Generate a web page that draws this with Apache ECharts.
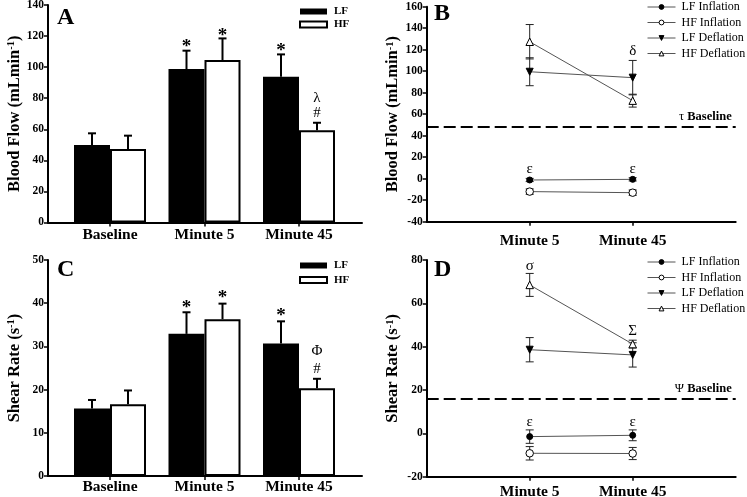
<!DOCTYPE html>
<html><head><meta charset="utf-8">
<script src="https://cdn.jsdelivr.net/npm/echarts@6/dist/echarts.min.js"></script>
<style>html,body{margin:0;padding:0;background:#fff}#c{width:747px;height:497px}</style>
</head><body><div id="c"></div><script>
// ---------- data ----------
const barCats = ['Baseline', 'Minute 5', 'Minute 45'];
const lineCats = ['', 'Minute 5', 'Minute 45', ''];
const lineNames = ['LF Inflation', 'HF Inflation', 'LF Deflation', 'HF Deflation'];

// Panel A: Blood flow (mL min-1)
const aLF = [49.9, 98.8, 93.8];
const aLFerr = [7.5, 11.8, 14.4];
const aHF = [47.3, 104.6, 59.3];
const aHFerr = [8.6, 13.9, 4.9];
const aNotes = [[1, -1, 115.3, '*'], [1, 1, 122.8, '*'], [2, -1, 113.1, '*'], [2, 1, 80.3, 'λ'], [2, 1, 70.4, '#']];

// Panel C: Shear rate (s-1)
const cLF = [15.6, 32.9, 30.7];
const cLFerr = [2.0, 5.0, 5.1];
const cHF = [16.6, 36.3, 20.3];
const cHFerr = [3.2, 3.6, 2.2];
const cNotes = [[1, -1, 39.9, '*'], [1, 1, 42.2, '*'], [2, -1, 38.0, '*'], [2, 1, 28.9, 'Φ'], [2, 1, 24.7, '#']];

// Panel B: Blood flow, cuff inflation / deflation
const bLFinf = [-1.2, -0.6];  const bLFinfErr = [1.5, 1.5];
const bHFinf = [-12.0, -13.0]; const bHFinfErr = [2.5, 2.5];
const bLFdef = [99.5, 94.0];  const bLFdefErr = [13.0, 16.0];
const bHFdef = [127.4, 72.6]; const bHFdefErr = [16.0, 6.0];
const bBaseline = 48.5;
const bNotes = [[2, 118.5, 'δ'], [1, 9.3, 'ε'], [2, 9.3, 'ε']];

// Panel D: Shear rate, cuff inflation / deflation
const dLFinf = [-1.5, -0.9];  const dLFinfErr = [3.1, 2.5];
const dHFinf = [-9.2, -9.3];  const dHFinfErr = [3.1, 2.8];
const dLFdef = [38.6, 36.2];  const dLFdefErr = [5.6, 5.6];
const dHFdef = [68.5, 41.2];  const dHFdefErr = [5.3, 1.8];
const dBaseline = 16.2;
const dNotes = [[1, 77.4, 'σ'], [2, 47.3, 'Σ'], [1, 5.4, 'ε'], [2, 5.4, 'ε']];

// ---------- style ----------
const FF = "'Liberation Serif','Times New Roman',serif";
const BAR_W = 36;

function yName(main) {
  return '{t|' + main + '}{s|-1}{t|)}';
}
const nameStyle = {
  fontFamily: FF, fontWeight: 'bold', fontSize: 16.5, color: '#000',
  rich: {
    t: { fontFamily: FF, fontWeight: 'bold', fontSize: 16.5, color: '#000' },
    s: { fontFamily: FF, fontWeight: 'bold', fontSize: 10.5, color: '#000', verticalAlign: 'top', padding: [0, 0, 6, 0] }
  }
};

function frameY(grid, min, max, interval, name) {
  return {
    gridIndex: grid, type: 'value', min: min, max: max, interval: interval,
    axisLine: { show: true, lineStyle: { color: '#000', width: 2 } },
    axisTick: { show: true, length: 4, lineStyle: { color: '#000', width: 1.5 } },
    axisLabel: { fontFamily: FF, fontWeight: 'bold', fontSize: 11.5, color: '#000', margin: 4 },
    splitLine: { show: false },
    name: name, nameLocation: 'middle', nameGap: 25, nameTextStyle: nameStyle
  };
}
function hiddenY(grid, min, max) {
  return { gridIndex: grid, type: 'value', min: min, max: max, show: false, splitLine: { show: false } };
}
function frameX(grid) {
  return {
    gridIndex: grid, type: 'value', min: 0, max: 1,
    axisLine: { show: true, onZero: false, lineStyle: { color: '#000', width: 2 } },
    axisTick: { show: false }, axisLabel: { show: false }, splitLine: { show: false }
  };
}
function barX(grid, margin) {
  return {
    gridIndex: grid, type: 'category', data: barCats,
    axisLine: { show: false },
    axisTick: { show: true, alignWithLabel: true, length: 4, lineStyle: { color: '#000', width: 1.5 } },
    axisLabel: { fontFamily: FF, fontWeight: 'bold', fontSize: 15.5, color: '#000', margin: margin },
    splitLine: { show: false }
  };
}
function lineX(grid, margin) {
  return {
    gridIndex: grid, type: 'category', data: lineCats, boundaryGap: false,
    axisLine: { show: true, onZero: false, lineStyle: { color: '#000', width: 2 } },
    axisTick: { show: true, length: 4, interval: function (i, v) { return v !== ''; }, lineStyle: { color: '#000', width: 1.5 } },
    axisLabel: { interval: 0, fontFamily: FF, fontWeight: 'bold', fontSize: 15.5, color: '#000', margin: margin },
    splitLine: { show: false }
  };
}

function barSeries(ax, lf, hf) {
  return [
    { name: 'LF', type: 'bar', xAxisIndex: ax, yAxisIndex: ax, data: lf, barWidth: BAR_W, barGap: '0%',
      itemStyle: { color: '#000' }, z: 2 },
    { name: 'HF', type: 'bar', xAxisIndex: ax, yAxisIndex: ax, data: hf, barWidth: BAR_W, barGap: '0%',
      itemStyle: { color: '#fff', borderColor: '#000', borderWidth: 2 }, z: 2 }
  ];
}
function barErr(ax, side, means, errs) {
  return {
    type: 'custom', xAxisIndex: ax, yAxisIndex: ax, z: 3, silent: true,
    data: means.map(function (m, i) { return [i, m, errs[i]]; }),
    renderItem: function (params, api) {
      const c = api.value(0), m = api.value(1), e = api.value(2);
      const p0 = api.coord([c, m]);
      const p1 = api.coord([c, m + e]);
      const x = p0[0] + side * BAR_W / 2;
      return { type: 'group', children: [
        { type: 'line', shape: { x1: x, y1: p0[1], x2: x, y2: p1[1] }, style: { stroke: '#000', lineWidth: 2 } },
        { type: 'line', shape: { x1: x - 4, y1: p1[1], x2: x + 4, y2: p1[1] }, style: { stroke: '#000', lineWidth: 2 } }
      ] };
    }
  };
}
function noteText(t) {
  if (t === '*') return { font: 'bold 19px ' + FF, dy: 4 };
  return { font: '15px ' + FF, dy: 0 };
}
function barNotes(ax, notes) {
  return {
    type: 'custom', xAxisIndex: ax, yAxisIndex: ax, z: 4, silent: true,
    data: notes.map(function (n) { return [n[0], n[2]]; }),
    renderItem: function (params, api) {
      const n = notes[params.dataIndex];
      const p = api.coord([api.value(0), api.value(1)]);
      const f = noteText(n[3]);
      return { type: 'text', x: p[0] + n[1] * BAR_W / 2, y: p[1] + f.dy,
        style: { text: n[3], font: f.font, fill: '#000', align: 'center', verticalAlign: 'middle' } };
    }
  };
}
function lineNotes(ax, notes) {
  return {
    type: 'custom', xAxisIndex: ax, yAxisIndex: ax, z: 4, silent: true,
    data: notes.map(function (n) { return [n[0], n[1]]; }),
    renderItem: function (params, api) {
      const n = notes[params.dataIndex];
      const p = api.coord([api.value(0), api.value(1)]);
      return { type: 'text', x: p[0], y: p[1],
        style: { text: n[2], font: '15px ' + FF, fill: '#000', align: 'center', verticalAlign: 'middle' } };
    }
  };
}
const symbols = [
  { symbol: 'circle', size: 6, rotate: 0, fill: '#000' },
  { symbol: 'circle', size: 7.5, rotate: 0, fill: '#fff' },
  { symbol: 'triangle', size: 7, rotate: 180, fill: '#000' },
  { symbol: 'triangle', size: 7.5, rotate: 0, fill: '#fff' }
];
function lineSeries(ax, groups, errs, baseline, greek) {
  const out = groups.map(function (vals, k) {
    const s = {
      name: lineNames[k], type: 'line', xAxisIndex: ax, yAxisIndex: ax,
      data: vals.map(function (v, i) { return [i + 1, v]; }),
      symbol: symbols[k].symbol, symbolSize: symbols[k].size, symbolRotate: symbols[k].rotate,
      showAllSymbol: true,
      lineStyle: { color: '#555', width: 1 },
      itemStyle: { color: symbols[k].fill, borderColor: '#000', borderWidth: 1 },
      z: 3
    };
    if (k === 0) {
      s.markLine = {
        silent: true, symbol: 'none', animation: false,
        data: [{ yAxis: baseline }],
        lineStyle: { color: '#000', width: 2, type: [12, 5] },
        label: { show: true, position: 'insideEndTop', distance: [4, 3],
          formatter: '{g|' + greek + '} {b|Baseline}',
          rich: {
            g: { fontFamily: FF, fontSize: 12.5, color: '#000' },
            b: { fontFamily: FF, fontSize: 12.5, fontWeight: 'bold', color: '#000' }
          } }
      };
    }
    return s;
  });
  const errData = [];
  groups.forEach(function (vals, k) {
    vals.forEach(function (v, i) { errData.push([i + 1, v, errs[k][i]]); });
  });
  out.push({
    type: 'custom', xAxisIndex: ax, yAxisIndex: ax, z: 2, silent: true,
    data: errData,
    renderItem: function (params, api) {
      const c = api.value(0), m = api.value(1), e = api.value(2);
      const pt = api.coord([c, m + e]);
      const pb = api.coord([c, m - e]);
      const x = pt[0];
      const st = { stroke: '#222', lineWidth: 1 };
      return { type: 'group', children: [
        { type: 'line', shape: { x1: x, y1: pt[1], x2: x, y2: pb[1] }, style: st },
        { type: 'line', shape: { x1: x - 4, y1: pt[1], x2: x + 4, y2: pt[1] }, style: st },
        { type: 'line', shape: { x1: x - 4, y1: pb[1], x2: x + 4, y2: pb[1] }, style: st }
      ] };
    }
  });
  return out;
}

function letter(t, left, top) {
  return { text: t, left: left, top: top, padding: 0,
    textStyle: { fontFamily: FF, fontWeight: 'bold', fontSize: 24, color: '#000' } };
}
function barLegend(top, gap) {
  return { data: ['LF', 'HF'], orient: 'vertical', left: 299, top: top, padding: 0,
    icon: 'rect', itemWidth: 27, itemHeight: 6, itemGap: gap, selectedMode: false,
    textStyle: { fontFamily: FF, fontWeight: 'bold', fontSize: 11, color: '#000', padding: [0, 0, 0, 2] } };
}
function lineLegend(top) {
  return { data: lineNames, orient: 'vertical', left: 647, top: top, padding: 0,
    itemWidth: 28, itemHeight: 6, itemGap: 3.5, selectedMode: false,
    itemStyle: { borderWidth: 1 },
    lineStyle: { width: 1 },
    textStyle: { fontFamily: FF, fontSize: 12, color: '#000', padding: [0, 0, 0, 1] } };
}

const grids = [
  { left: 48, top: 5, width: 314, height: 217.5 },
  { left: 62.75, top: 5, width: 283.5, height: 217.5 },
  { left: 426.7, top: 6.7, width: 309, height: 215 },
  { left: 48, top: 260, width: 314, height: 216 },
  { left: 62.75, top: 260, width: 283.5, height: 216 },
  { left: 426.7, top: 260, width: 309, height: 216.7 }
].map(function (g) { g.outerBoundsMode = 'none'; g.containLabel = false; return g; });

const option = {
  animation: false,
  backgroundColor: '#fff',
  title: [letter('A', 57, 6), letter('B', 434, 2), letter('C', 57, 258), letter('D', 434, 258)],
  legend: [barLegend(6, 2), barLegend(260, 3.5), lineLegend(1), lineLegend(256)],
  grid: grids,
  xAxis: [frameX(0), barX(1, 4), lineX(2, 11), frameX(3), barX(4, 3), lineX(5, 7)],
  yAxis: [
    frameY(0, 0, 140, 20, yName('Blood Flow (mLmin')),
    hiddenY(1, 0, 140),
    frameY(2, -40, 160, 20, yName('Blood Flow (mLmin')),
    frameY(3, 0, 50, 10, yName('Shear Rate (s')),
    hiddenY(4, 0, 50),
    frameY(5, -20, 80, 20, yName('Shear Rate (s'))
  ],
  series: [].concat(
    barSeries(1, aLF, aHF),
    [barErr(1, -1, aLF, aLFerr), barErr(1, 1, aHF, aHFerr), barNotes(1, aNotes)],
    barSeries(4, cLF, cHF),
    [barErr(4, -1, cLF, cLFerr), barErr(4, 1, cHF, cHFerr), barNotes(4, cNotes)],
    lineSeries(2, [bLFinf, bHFinf, bLFdef, bHFdef], [bLFinfErr, bHFinfErr, bLFdefErr, bHFdefErr], bBaseline, 'τ'),
    [lineNotes(2, bNotes)],
    lineSeries(5, [dLFinf, dHFinf, dLFdef, dHFdef], [dLFinfErr, dHFinfErr, dLFdefErr, dHFdefErr], dBaseline, 'Ψ'),
    [lineNotes(5, dNotes)]
  )
};
const chart = echarts.init(document.getElementById('c'), null, { renderer: 'canvas' });
chart.setOption(option);
</script></body></html>
